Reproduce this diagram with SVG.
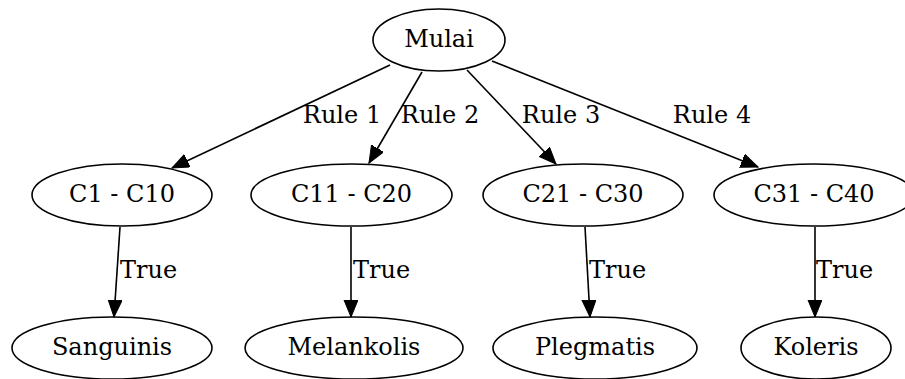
<svg xmlns="http://www.w3.org/2000/svg" width="905" height="379" viewBox="0 0 905 379">
<defs>
<style>
.n ellipse{fill:none;stroke:#000;stroke-width:1.6}
text{font-family:"DejaVu Serif","Liberation Serif",serif;font-size:24px;fill:#000}
.n text{text-anchor:middle}
.e line{stroke:#000;stroke-width:1.6}
.lbl{text-anchor:middle}
</style>
<marker id="ah" markerUnits="userSpaceOnUse" markerWidth="19" markerHeight="15" refX="17" refY="7" orient="auto">
<path d="M0,0 L17,7 L0,14 Z" fill="#000" stroke="#000" stroke-width="1"/>
</marker>
</defs>
<rect width="905" height="379" fill="#fff"/>
<g id="edges" class="e">
<line x1="390" y1="65" x2="172" y2="168" marker-end="url(#ah)"/>
<line x1="422" y1="72" x2="369" y2="163" marker-end="url(#ah)"/>
<line x1="467" y1="70" x2="556" y2="164" marker-end="url(#ah)"/>
<line x1="492" y1="61" x2="758" y2="167" marker-end="url(#ah)"/>
<line x1="120" y1="227" x2="114" y2="317" marker-end="url(#ah)"/>
<line x1="351" y1="227" x2="351" y2="317" marker-end="url(#ah)"/>
<line x1="585" y1="227" x2="590" y2="317" marker-end="url(#ah)"/>
<line x1="815" y1="227" x2="815" y2="317" marker-end="url(#ah)"/>
<text class="lbl" x="342" y="123">Rule 1</text>
<text class="lbl" x="440" y="123">Rule 2</text>
<text class="lbl" x="561" y="123">Rule 3</text>
<text class="lbl" x="712" y="123">Rule 4</text>
<text x="120" y="278">True</text>
<text x="353" y="278">True</text>
<text x="589" y="278">True</text>
<text x="816" y="278">True</text>
</g>
<g id="mulai" class="n"><ellipse cx="439" cy="40" rx="66" ry="31"/><text x="439" y="47">Mulai</text></g>
<g id="c1" class="n"><ellipse cx="122" cy="195" rx="90" ry="31"/><text x="122" y="202">C1 - C10</text></g>
<g id="c2" class="n"><ellipse cx="351.5" cy="195" rx="100.5" ry="31"/><text x="351.5" y="202">C11 - C20</text></g>
<g id="c3" class="n"><ellipse cx="583" cy="195" rx="100" ry="31"/><text x="583" y="202">C21 - C30</text></g>
<g id="c4" class="n"><ellipse cx="814" cy="195" rx="100" ry="31"/><text x="814" y="202">C31 - C40</text></g>
<g id="sanguinis" class="n"><ellipse cx="112" cy="348" rx="100" ry="31"/><text x="112" y="355">Sanguinis</text></g>
<g id="melankolis" class="n"><ellipse cx="354" cy="348" rx="109" ry="31"/><text x="354" y="355">Melankolis</text></g>
<g id="plegmatis" class="n"><ellipse cx="595" cy="348" rx="102" ry="31"/><text x="595" y="355">Plegmatis</text></g>
<g id="koleris" class="n"><ellipse cx="816" cy="348" rx="75" ry="31"/><text x="816" y="355">Koleris</text></g>
</svg>
